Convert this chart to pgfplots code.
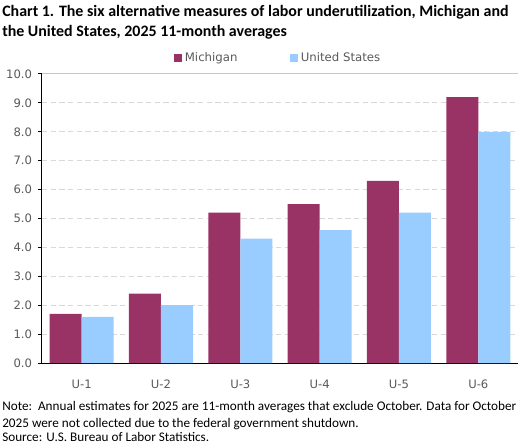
\documentclass[border=0pt]{standalone}
\usepackage{pgfplots}
\pgfplotsset{compat=1.18}
\usepackage{fontspec}
\setmainfont{Carlito}
\newfontfamily\dv{DejaVu Sans}
\definecolor{mich}{RGB}{153,51,102}
\definecolor{us}{RGB}{153,204,255}
\definecolor{txt}{RGB}{89,89,89}
\definecolor{grd}{RGB}{217,217,217}
\begin{document}
\begin{tikzpicture}
\path (0pt,0pt) rectangle (395.25pt,-336pt);
\node[anchor=base west, inner sep=0, font=\bfseries\fontsize{11.95}{14}\selectfont] at (1.5pt,-12.75pt) {Chart 1. The six alternative measures of labor underutilization, Michigan and};
\node[anchor=base west, inner sep=0, font=\bfseries\fontsize{11.95}{14}\selectfont] at (1.5pt,-27.75pt) {the United States, 2025 11-month averages};
\begin{axis}[
  at={(31.5pt,-272.25pt)}, anchor=south west,
  scale only axis, width=357pt, height=216.75pt,
  ybar, bar width=24pt,
  ymin=0, ymax=10, ytick={0,1,...,10},
  xmin=-0.5, xmax=5.5,
  xtick=data, xticklabels={U-1,U-2,U-3,U-4,U-5,U-6},
  axis x line*=bottom, axis y line*=left,
  axis line style={black, line width=0.75pt},
  x tick style={draw=none},
  y tick style={black, line width=0.75pt},
  tick align=outside, major tick length=3pt,
  ymajorgrids, grid style={grd, dash pattern=on 4pt off 2.5pt, line width=0.75pt},
  yticklabel style={font=\dv\fontsize{8.7}{10}\selectfont, text=txt, xshift=-1pt},
  xticklabel style={font=\dv\fontsize{8.7}{10}\selectfont, text=txt, yshift=-6pt},
  /pgf/number format/.cd, fixed, fixed zerofill, precision=1, assume math mode=true,
  /pgfplots/.cd,
  legend style={at={(0.497,1)}, anchor=south, yshift=4pt, draw=none, fill=none,
    font=\dv\fontsize{8.8}{10}\selectfont, text=txt, legend columns=2,
    /tikz/every even column/.append style={column sep=37.5pt}},
  legend image code/.code={\fill[#1, draw=none] (0pt,-3pt) rectangle (6pt,3pt);},
  legend cell align=left,
]
\addplot[fill=mich, draw=none, bar shift=-12pt] coordinates {(0,1.7) (1,2.4) (2,5.2) (3,5.5) (4,6.3) (5,9.2)};
\addplot[fill=us, draw=none, bar shift=12pt] coordinates {(0,1.6) (1,2.0) (2,4.3) (3,4.6) (4,5.2) (5,8.0)};
\legend{Michigan, United States}
\draw[grd!80!gray, line width=0.75pt] (axis cs:-0.5,10) -- (axis cs:5.5,10);
\end{axis}
\node[anchor=base west, inner sep=0, font=\fontsize{9.9}{12}\selectfont] at (1.5pt,-307.5pt) {Note:\ \ Annual estimates for 2025 are 11-month averages that exclude October. Data for October};
\node[anchor=base west, inner sep=0, font=\fontsize{9.9}{12}\selectfont] at (1.5pt,-320.25pt) {2025 were not collected due to the federal government shutdown.};
\node[anchor=base west, inner sep=0, font=\fontsize{9.9}{12}\selectfont] at (1.5pt,-330.75pt) {Source: U.S. Bureau of Labor Statistics.};
\end{tikzpicture}
\end{document}
